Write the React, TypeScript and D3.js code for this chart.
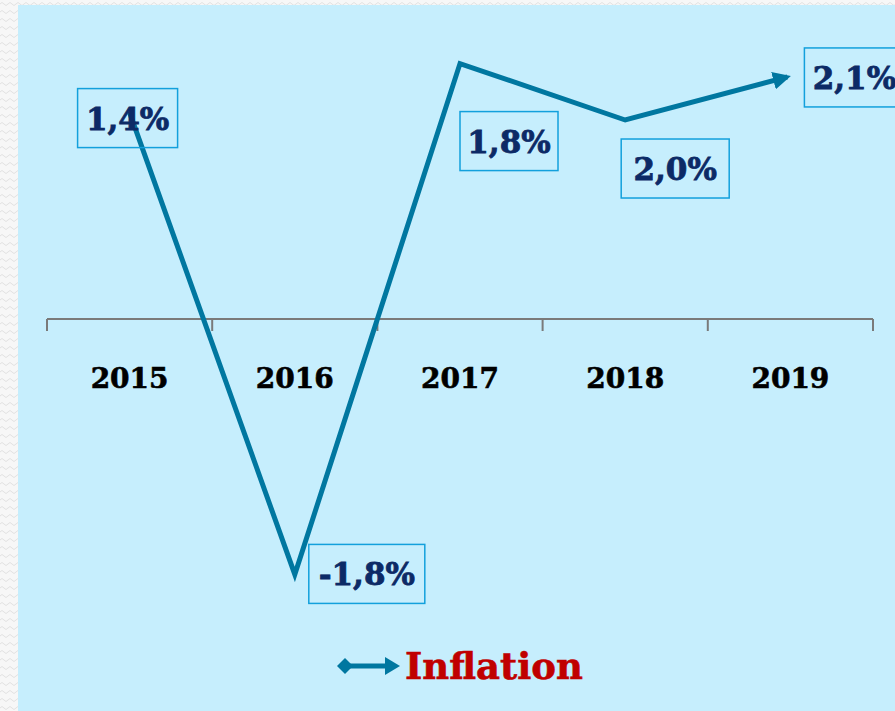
import React from "react";
import * as d3 from "d3";

const years = ["2015", "2016", "2017", "2018", "2019"];
const inflation = [1.39, -1.72, 1.72, 1.34, 1.63];
const labels = ["1,4%", "-1,8%", "1,8%", "2,0%", "2,1%"];
const seriesName = "Inflation";

// label box offsets (layout), relative to the data point
const labelOffsets: [number, number][] = [
  [-2, 5],
  [72, -1],
  [49, 77],
  [50, 48],
  [64, 0],
];

const W = 895;
const H = 711;
const LINE = "#0077a0";
const BG = "#c6eefd";
const NAVY = "#0c2a66";

export default function App() {
  const x = d3.scaleBand<string>().domain(years).range([47, 873]);
  const y = d3.scaleLinear().domain([-2, 2]).range([616, 22]);
  const cx = (d: string) => (x(d) as number) + x.bandwidth() / 2;
  const line = d3
    .line<number>()
    .x((_, i) => cx(years[i]) - (i === years.length - 1 ? 3 : 0))
    .y((v) => y(v));
  const ticks = [...years.map((d) => x(d) as number), 873];
  const y0 = y(0);

  const labelW = [100, 116, 98, 108, 100];

  return (
    <svg
      width={W}
      height={H}
      style={{ position: "absolute", left: 0, top: 0, display: "block" }}
    >
      <defs>
        <pattern id="bgpat" width="8" height="8" patternUnits="userSpaceOnUse">
          <rect width="8" height="8" fill="#f7f7f7" />
          <path d="M0 4 Q2 1 4 4 T8 4" stroke="#e2e2e2" fill="none" strokeWidth="1" />
        </pattern>
        <marker
          id="arrow"
          viewBox="0 0 10 10"
          refX="8"
          refY="5"
          markerWidth="3.6"
          markerHeight="3.6"
          orient="auto"
          markerUnits="strokeWidth"
        >
          <path d="M0,0 L10,5 L0,10 Z" fill={LINE} />
        </marker>
      </defs>
      <rect width={W} height={H} fill="url(#bgpat)" />
      <rect x={18} y={5} width={W - 18} height={H - 5} fill={BG} />

      {/* axis */}
      <g stroke="#7a7a7a" strokeWidth={2} fill="none">
        <line x1={47} x2={873} y1={y0} y2={y0} />
        {ticks.map((t, i) => (
          <line key={i} x1={t} x2={t} y1={y0} y2={y0 + 12} />
        ))}
      </g>
      {years.map((d) => (
        <text
          key={d}
          x={cx(d)}
          y={388}
          textAnchor="middle"
          fontFamily="DejaVu Serif"
          fontWeight="bold"
          fontSize={28}
          fill="#000"
          stroke="#000"
          strokeWidth={0.6}
        >
          {d}
        </text>
      ))}

      {/* series line */}
      <path
        d={line(inflation) || ""}
        fill="none"
        stroke={LINE}
        strokeWidth={5}
        strokeLinejoin="miter"
        markerEnd="url(#arrow)"
      />

      {/* data labels */}
      {inflation.map((v, i) => {
        const lx = cx(years[i]) + labelOffsets[i][0];
        const ly = y(v) + labelOffsets[i][1];
        const w = labelW[i];
        return (
          <g key={i}>
            <rect
              x={lx - w / 2}
              y={ly - 29}
              width={w}
              height={59}
              fill="none"
              stroke="#12a0dc"
              strokeWidth={1.5}
            />
            <text
              x={lx}
              y={ly + 12}
              textAnchor="middle"
              fontFamily="DejaVu Serif"
              fontWeight="bold"
              fontSize={31}
              fill={NAVY}
              stroke={NAVY}
              strokeWidth={0.8}
            >
              {labels[i]}
            </text>
          </g>
        );
      })}

      {/* legend */}
      <g>
        <line x1={345} x2={390} y1={666} y2={666} stroke={LINE} strokeWidth={5} />
        <path d="M337,666 L345,658 L353,666 L345,674 Z" fill={LINE} />
        <path d="M385,657 L400,666 L385,675 Z" fill={LINE} />
        <text
          x={405}
          y={679}
          fontFamily="DejaVu Serif"
          fontWeight="bold"
          fontSize={37}
          fill="#c00000"
          stroke="#c00000"
          strokeWidth={0.6}
        >
          {seriesName}
        </text>
      </g>
    </svg>
  );
}
